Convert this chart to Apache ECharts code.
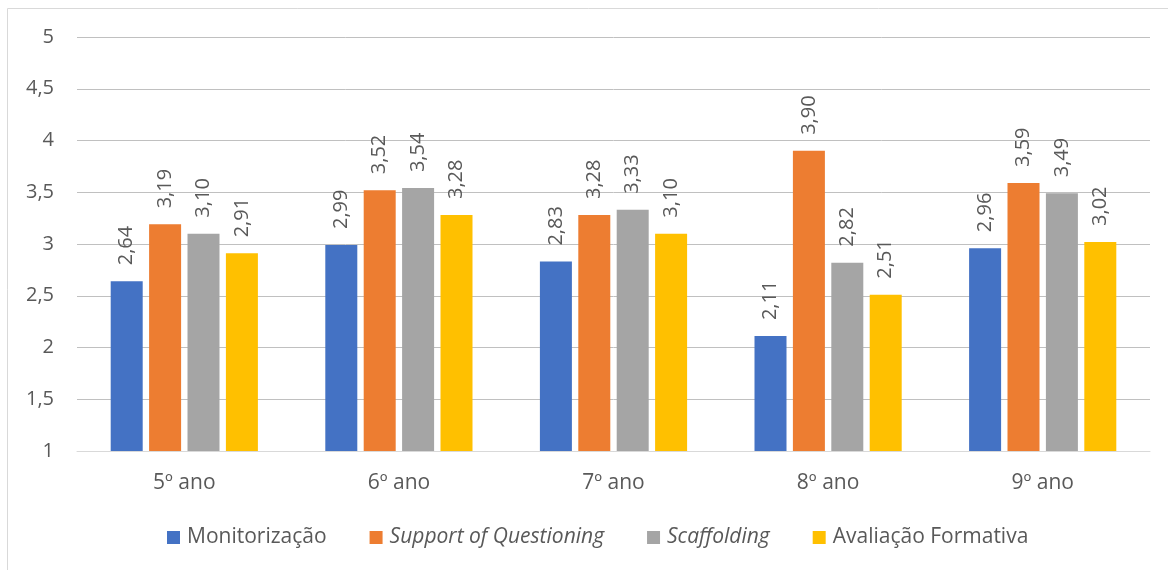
<!DOCTYPE html>
<html>
<head>
<meta charset="utf-8">
<script src="https://cdn.jsdelivr.net/npm/echarts@6/dist/echarts.min.js"></script>
<style>
  html, body { margin: 0; padding: 0; background: #fff; }
  #chart { width: 1168px; height: 570px; }
</style>
</head>
<body>
<div id="chart"></div>
<script>
var categories = ['5º ano', '6º ano', '7º ano', '8º ano', '9º ano'];
var seriesNames = ['Monitorização', 'Support of Questioning', 'Scaffolding', 'Avaliação Formativa'];
var monitorizacao = [2.64, 2.99, 2.83, 2.11, 2.96];
var supportQuestioning = [3.19, 3.52, 3.28, 3.90, 3.59];
var scaffolding = [3.10, 3.54, 3.33, 2.82, 3.49];
var avaliacaoFormativa = [2.91, 3.28, 3.10, 2.51, 3.02];
var colors = ['#4472C4', '#ED7D31', '#A5A5A5', '#FFC000'];
var italicNames = ['Support of Questioning', 'Scaffolding'];

var fontFamily = 'Open Sans';
var fontSize = 20;
var textColor = '#595959';

function comma(v) {
    return String(v).replace('.', ',');
}

function makeSeries(name, data) {
    return {
        name: name,
        type: 'bar',
        data: data,
        barWidth: 32,
        barGap: '20%',
        label: {
            show: true,
            position: 'top',
            rotate: 90,
            align: 'left',
            verticalAlign: 'middle',
            distance: 16,
            fontFamily: fontFamily,
            fontSize: fontSize,
            color: textColor,
            formatter: function (p) { return p.value.toFixed(2).replace('.', ','); }
        }
    };
}

var chart = echarts.init(document.getElementById('chart'));
var option = {
    animation: false,
    color: colors,
    textStyle: { fontFamily: fontFamily },
    graphic: [{
        type: 'rect',
        shape: { x: 7.5, y: 8.5, width: 1200, height: 600 },
        style: { fill: 'none', stroke: '#d9d9d9', lineWidth: 1 },
        silent: true
    }],
    grid: { left: 77, right: 18, top: 37, bottom: 119 },
    legend: {
        bottom: 17,
        left: 162,
        itemWidth: 13,
        itemHeight: 13,
        itemGap: 43,
        icon: 'rect',
        textStyle: {
            fontFamily: fontFamily,
            fontSize: 21,
            color: textColor,
            padding: [0, 0, 0, 2],
            rich: {
                i: { fontStyle: 'italic', fontFamily: fontFamily, fontSize: 21, color: textColor }
            }
        },
        formatter: function (name) {
            return italicNames.indexOf(name) >= 0 ? '{i|' + name + '}' : name;
        },
        data: seriesNames
    },
    xAxis: {
        type: 'category',
        data: categories,
        axisTick: { show: false },
        axisLine: { lineStyle: { color: '#d9d9d9', width: 1 } },
        axisLabel: { margin: 22, fontFamily: fontFamily, fontSize: 21, color: textColor }
    },
    yAxis: {
        type: 'value',
        min: 1,
        max: 5,
        interval: 0.5,
        axisLine: { show: false },
        axisTick: { show: false },
        splitLine: { lineStyle: { color: '#c0c0c0', width: 1 } },
        axisLabel: { margin: 23, fontFamily: fontFamily, fontSize: fontSize, color: textColor, formatter: comma }
    },
    series: [
        makeSeries(seriesNames[0], monitorizacao),
        makeSeries(seriesNames[1], supportQuestioning),
        makeSeries(seriesNames[2], scaffolding),
        makeSeries(seriesNames[3], avaliacaoFormativa)
    ]
};
chart.setOption(option);
</script>
</body>
</html>
